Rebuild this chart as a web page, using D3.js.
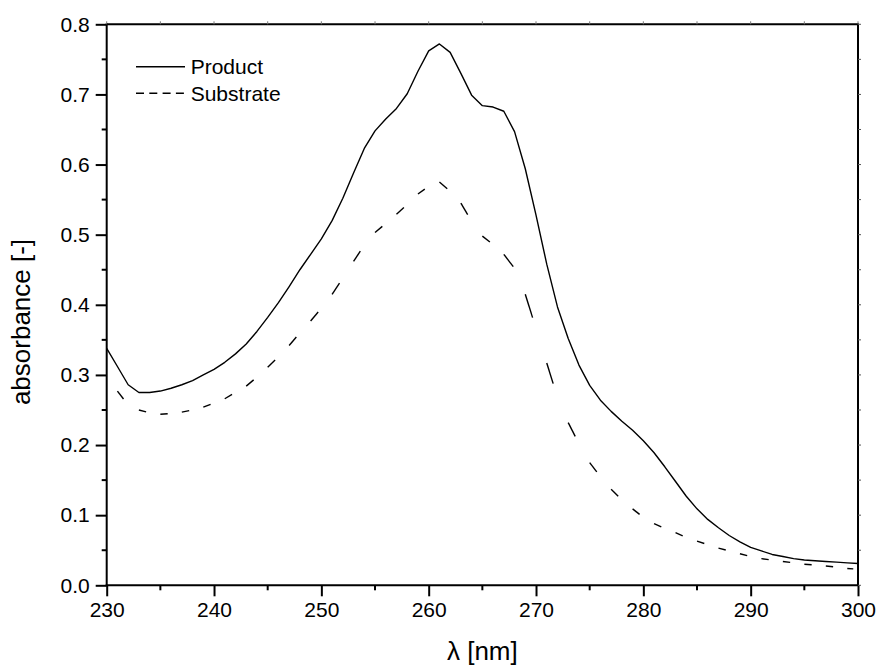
<!DOCTYPE html>
<html><head><meta charset="utf-8">
<script src="https://cdn.jsdelivr.net/npm/d3@7"></script>
<style>
body{margin:0;background:#fff;}
text{font-family:"Liberation Sans",Arial,sans-serif;fill:#000;}
</style></head>
<body><svg id="c" width="878" height="667"></svg>
<script>
const productWavelengths = [230,231,232,233,234,235,236,237,238,239,240,241,242,243,244,245,246,247,248,249,250,251,252,253,254,255,256,257,258,259,260,261,262,263,264,265,266,267,268,269,270,271,272,273,274,275,276,277,278,279,280,281,282,283,284,285,286,287,288,289,290,291,292,293,294,295,296,297,298,299,300];
const productValues = [0.338,0.312,0.286,0.275,0.275,0.277,0.281,0.286,0.292,0.300,0.308,0.318,0.330,0.344,0.362,0.382,0.403,0.426,0.450,0.472,0.494,0.520,0.552,0.588,0.623,0.648,0.665,0.680,0.701,0.733,0.762,0.772,0.760,0.730,0.699,0.684,0.682,0.676,0.647,0.594,0.528,0.458,0.397,0.352,0.314,0.285,0.264,0.248,0.234,0.221,0.206,0.189,0.169,0.148,0.127,0.109,0.094,0.082,0.071,0.062,0.054,0.049,0.044,0.041,0.038,0.036,0.035,0.034,0.033,0.032,0.031];
const substrateWavelengths = [231,232,233,234,235,236,237,238,239,240,241,242,243,244,245,246,247,248,249,250,251,252,253,254,255,256,257,258,259,260,261,262,263,264,265,266,267,268,269,270,271,272,273,274,275,276,277,278,279,280,281,282,283,284,285,286,287,288,289,290,291,292,293,294,295,296,297,298,299,300];
const substrateValues = [0.277,0.257,0.250,0.246,0.244,0.245,0.247,0.250,0.254,0.260,0.266,0.275,0.284,0.297,0.311,0.326,0.342,0.360,0.377,0.395,0.415,0.438,0.462,0.485,0.503,0.516,0.529,0.543,0.558,0.569,0.575,0.562,0.545,0.519,0.498,0.486,0.472,0.452,0.415,0.366,0.317,0.268,0.232,0.202,0.175,0.155,0.137,0.122,0.109,0.097,0.088,0.081,0.075,0.068,0.063,0.058,0.053,0.049,0.045,0.041,0.038,0.036,0.034,0.032,0.030,0.029,0.0275,0.026,0.024,0.023];
const xTicks = [230,240,250,260,270,280,290,300];
const yTicks = [0.0,0.1,0.2,0.3,0.4,0.5,0.6,0.7,0.8];
const legendLabels = ["Product","Substrate"];
const xTitle = "λ [nm]";
const yTitle = "absorbance [-]";

const svg = d3.select("#c");
const L = 106.7, R = 858, T = 24.3, B = 585.3;
const x = d3.scaleLinear().domain([230,300]).range([L,R]);
const y = d3.scaleLinear().domain([0,0.8]).range([B,T]);

const product = productWavelengths.map((w,i)=>({w, v: productValues[i]}));
const substrate = substrateWavelengths.map((w,i)=>({w, v: substrateValues[i]}));
const line = d3.line().x(d=>x(d.w)).y(d=>y(d.v));

// curves
svg.append("path").datum(product).attr("d", line)
  .attr("fill","none").attr("stroke","#000").attr("stroke-width",1.4).attr("stroke-linejoin","round");

const chunks = [];
for (let i = 0; i < substrate.length - 1; i += 2) chunks.push(substrate.slice(i, Math.min(i + 3, substrate.length)));
const subG = svg.append("g");
chunks.forEach(c => {
  const p = subG.append("path").datum(c).attr("d", line)
    .attr("fill","none").attr("stroke","#000").attr("stroke-width",1.4);
  const len = p.node().getTotalLength();
  p.attr("stroke-dasharray", `${Math.max(6, len*0.34)},${len+10}`);
});

// frame
const frame = svg.append("g").attr("stroke","#000").attr("stroke-width",2).attr("fill","none");
frame.append("line").attr("x1",L).attr("x2",R).attr("y1",T).attr("y2",T);
frame.append("line").attr("x1",R).attr("x2",R).attr("y1",T-1).attr("y2",B);

// axes
const xAxis = d3.axisBottom(x).tickValues(xTicks).tickSize(11).tickPadding(6).tickFormat(d3.format("d"));
const gx = svg.append("g").attr("transform",`translate(0,${B})`).call(xAxis);
const yAxis = d3.axisLeft(y).tickValues(yTicks).tickSize(11).tickPadding(6).tickFormat(d3.format(".1f"));
const gy = svg.append("g").attr("transform",`translate(${L},0)`).call(yAxis);
[gx,gy].forEach(g=>{
  g.select(".domain").attr("stroke","#000").attr("stroke-width",2);
  g.selectAll(".tick line").attr("stroke","#000").attr("stroke-width",2);
  g.selectAll(".tick text").attr("font-size",21).attr("font-family","Liberation Sans, Arial, sans-serif").attr("fill","#000");
});
gx.select(".domain").attr("d",`M${L-1},0H${R+1}`);
gy.select(".domain").attr("d",`M0,${T-1}V${B+1}`);

// minor ticks
const xMinor = xTicks.slice(0,-1).map(t=>t+5);
const yMinor = yTicks.slice(0,-1).map(t=>+(t+0.05).toFixed(2));
svg.append("g").selectAll("line").data(xMinor).join("line")
  .attr("x1",d=>x(d)).attr("x2",d=>x(d)).attr("y1",B).attr("y2",B+5)
  .attr("stroke","#000").attr("stroke-width",2);
svg.append("g").selectAll("line").data(yMinor).join("line")
  .attr("y1",d=>y(d)).attr("y2",d=>y(d)).attr("x1",L).attr("x2",L-5)
  .attr("stroke","#000").attr("stroke-width",2);
// top & right small ticks
svg.append("g").selectAll("line").data(xTicks.concat(xMinor)).join("line")
  .attr("x1",d=>x(d)).attr("x2",d=>x(d)).attr("y1",T).attr("y2",T-3)
  .attr("stroke","#777").attr("stroke-width",1);
svg.append("g").selectAll("line").data(yTicks.concat(yMinor)).join("line")
  .attr("y1",d=>y(d)).attr("y2",d=>y(d)).attr("x1",R).attr("x2",R+3)
  .attr("stroke","#555").attr("stroke-width",1);

// titles
svg.append("text").attr("x",(L+R)/2).attr("y",660).attr("text-anchor","middle")
  .attr("font-size",26).text(xTitle);
svg.append("text").attr("transform","translate(30,322) rotate(-90)").attr("text-anchor","middle")
  .attr("font-size",26).text(yTitle);

// legend
const leg = svg.append("g");
const legY = [66.7, 93.3];
leg.append("line").attr("x1",136).attr("x2",185).attr("y1",legY[0]).attr("y2",legY[0])
  .attr("stroke","#000").attr("stroke-width",1.4);
leg.append("line").attr("x1",136).attr("x2",185).attr("y1",legY[1]).attr("y2",legY[1])
  .attr("stroke","#000").attr("stroke-width",1.4).attr("stroke-dasharray","8,5.3");
legendLabels.forEach((t,i)=>{
  leg.append("text").attr("x",190.7).attr("y",legY[i]+7.6).attr("font-size",21).text(t);
});
</script></body></html>
